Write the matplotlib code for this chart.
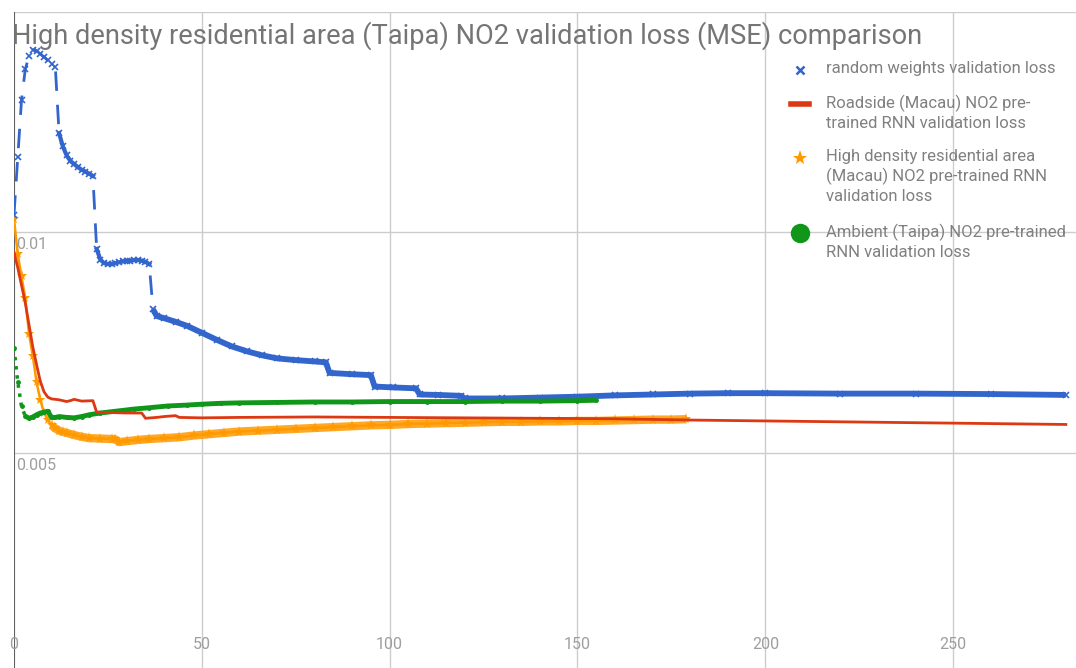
import matplotlib
matplotlib.use("Agg")
import matplotlib.pyplot as plt
from matplotlib.lines import Line2D
import matplotlib.transforms as mtransforms

plt.rcParams['font.family'] = ['Roboto', 'DejaVu Sans']

# ---- data ----
title = "High density residential area (Taipa) NO2 validation loss (MSE) comparison"

labels = [
    "random weights validation loss",
    "Roadside (Macau) NO2 pre-\ntrained RNN validation loss",
    "High density residential area\n(Macau) NO2 pre-trained RNN\nvalidation loss",
    "Ambient (Taipa) NO2 pre-trained\nRNN validation loss",
]

random_x = [0, 1, 2, 3, 4, 5, 6, 7, 8, 9, 10, 11, 12, 13, 14, 15, 16, 17, 18, 19,
            20, 21, 22, 23, 24, 25, 26, 27, 28, 29, 30, 31, 32, 33, 34, 35, 36, 37,
            38, 40, 43, 46, 50, 54, 58, 62, 66, 70, 75, 80, 83, 84, 90, 95, 96, 101,
            107, 108, 113, 119, 120, 130, 140, 150, 160, 170, 180, 190, 200, 220,
            240, 260, 280]
random_y = [0.0104, 0.0117, 0.0130, 0.0137, 0.0140, 0.01414, 0.01412, 0.01405,
            0.01398, 0.0139, 0.01383, 0.01375, 0.01225, 0.01195, 0.01175, 0.01162,
            0.01155, 0.01148, 0.01142, 0.01138, 0.01133, 0.01128, 0.00962, 0.00938,
            0.00930, 0.00928, 0.00928, 0.00930, 0.00932, 0.00934, 0.00935, 0.00936,
            0.00937, 0.00937, 0.00936, 0.00933, 0.00928, 0.00825, 0.00810, 0.00805,
            0.00797, 0.00788, 0.00772, 0.00756, 0.00741, 0.00730, 0.00721, 0.00714,
            0.00710, 0.00707, 0.00705, 0.00681, 0.00678, 0.00676, 0.00650, 0.00648,
            0.00646, 0.00632, 0.00631, 0.00629, 0.00623, 0.00623, 0.00625, 0.00627,
            0.00630, 0.00632, 0.00634, 0.00635, 0.00635, 0.00634, 0.00634, 0.00633,
            0.00631]

roadside_x = [0, 1, 2, 3, 4, 5, 6, 7, 8, 9, 10, 12, 14, 15, 16, 17, 18, 21, 22, 26,
              30, 34, 35, 38, 40, 43, 44, 50, 60, 80, 100, 120, 140, 160, 180, 200,
              220, 240, 260, 280]
roadside_y = [0.00955, 0.0092, 0.0088, 0.0084, 0.0079, 0.0074, 0.0070, 0.00662,
              0.00638, 0.00626, 0.00622, 0.00620, 0.00616, 0.00618, 0.00621, 0.00619,
              0.00617, 0.00618, 0.00592, 0.00591, 0.00590, 0.00590, 0.00578, 0.00580,
              0.00582, 0.00584, 0.00580, 0.00579, 0.00580, 0.00581, 0.00580, 0.00579,
              0.00578, 0.00577, 0.00574, 0.00572, 0.00570, 0.00568, 0.00566, 0.00564]

highdens_x = [0, 1, 2, 3, 4, 5, 6, 7, 8, 9, 10, 11, 12, 13, 14, 16, 18, 20, 23, 26,
              27, 28, 30, 33, 36, 40, 44, 48, 52, 56, 60, 65, 70, 75, 80, 85, 90, 95,
              100, 105, 110, 115, 120, 125, 130, 135, 140, 145, 150, 155, 160, 165,
              170, 175, 179]
highdens_y = [0.0103, 0.0095, 0.0090, 0.0085, 0.0077, 0.0072, 0.0066, 0.0062,
              0.0059, 0.00575, 0.00562, 0.00555, 0.00550, 0.00547, 0.00545, 0.00540,
              0.00536, 0.00533, 0.00532, 0.00531, 0.00530, 0.00524, 0.00526, 0.00529,
              0.00531, 0.00533, 0.00535, 0.00539, 0.00542, 0.00545, 0.00548, 0.00550,
              0.00552, 0.00554, 0.00556, 0.00558, 0.00560, 0.00562, 0.00563, 0.00565,
              0.00566, 0.00567, 0.00568, 0.00569, 0.00570, 0.00570, 0.00571, 0.00571,
              0.00572, 0.00572, 0.00573, 0.00574, 0.00575, 0.00575, 0.00576]

ambient_x = [0, 1, 2, 3, 4, 5, 6, 7, 8, 9, 10, 11, 12, 14, 16, 18, 20, 23, 27, 32,
             36, 41, 46, 50, 55, 60, 70, 80, 90, 100, 110, 120, 130, 140, 150, 155]
ambient_y = [0.00738, 0.00660, 0.00605, 0.00583, 0.00578, 0.00581, 0.00586, 0.00590,
             0.00592, 0.00594, 0.00580, 0.00580, 0.00582, 0.00580, 0.00579, 0.00582,
             0.00586, 0.00590, 0.00594, 0.00599, 0.00602, 0.00606, 0.00608, 0.00610,
             0.00612, 0.00613, 0.00614, 0.00615, 0.00615, 0.00616, 0.00616, 0.00616,
             0.00617, 0.00617, 0.00618, 0.00619]

x_ticks = [0, 50, 100, 150, 200, 250]
y_ticks = [0.005, 0.01, 0.015]
y_labels = ["0.005", "0.01", ""]

blue, red, orange, green = "#3366cc", "#dc3912", "#ff9900", "#109618"
grey_txt = "#757575"

# ---- figure ----
fig = plt.figure(figsize=(10.76, 6.68), dpi=100)
ax = fig.add_axes([14 / 1076, -5 / 668, 1 - 14 / 1076, 661 / 668])
ax.set_xlim(0, 282.7)
ax.set_ylim(0, 0.015)
for s in ax.spines.values():
    s.set_visible(False)
ax.set_xticks(x_ticks)
ax.set_yticks(y_ticks)
ax.tick_params(length=0, labelbottom=False, labelleft=False)
ax.grid(True, color="#cccccc", lw=1)
ax.set_axisbelow(True)
ax.axvline(0, color="#555555", lw=1.3, zorder=1)

# random weights: dashed line + x markers, dense band on the slow parts
ax.plot(random_x, random_y, color=blue, lw=2, dashes=(7, 5), marker="x",
        ms=4, mew=1.2, zorder=3)
for a, b in [(12, 22), (22, 37)]:
    ax.plot(random_x[a:b], random_y[a:b], color=blue, lw=3, zorder=3)
ax.plot(random_x[37:], random_y[37:], color=blue, lw=4.2, solid_capstyle="butt",
        zorder=3)

# roadside: plain line
ax.plot(roadside_x, roadside_y, color=red, lw=2, zorder=4)

# high density: line with star markers
ax.plot(highdens_x, highdens_y, color=orange, lw=1.8, marker="*", ms=8,
        mew=0, zorder=2)
ax.plot(highdens_x[10:], highdens_y[10:], color=orange, lw=6, alpha=0.85,
        solid_capstyle="butt", zorder=2)

# ambient: dotted line + small dots
ax.plot(ambient_x, ambient_y, color=green, lw=2.5, ls=":", marker="o", ms=2.5,
        zorder=3)
ax.plot(ambient_x[3:], ambient_y[3:], color=green, lw=3.5, solid_capstyle="butt",
        zorder=3)

# tick labels drawn inside the plot like the reference
trans = mtransforms.blended_transform_factory(ax.transData, ax.transAxes)
for t in x_ticks:
    ax.text(t, 0.0424, str(t), transform=trans, ha="center", va="center",
            fontsize=11.5, color="#9e9e9e")
for v, lab in zip(y_ticks, y_labels):
    ax.annotate(lab, xy=(0, v), xytext=(1.5, -3.5), textcoords="offset points",
                ha="left", va="top", fontsize=11.5, color="#9e9e9e")

fig.text(12 / 1076, 1 - 36 / 668, title, fontsize=19.6, color=grey_txt,
         ha="left", va="center")

# legend drawn by hand
leg_rows = [70, 104, 158, 233]
handles = [
    dict(marker="x", color=blue, ms=6, mew=1.8, ls="none"),
    None,
    dict(marker="*", color=orange, ms=11, mew=0, ls="none"),
    dict(marker="o", color=green, ms=14, mew=0, ls="none"),
]
for y, lab, h in zip(leg_rows, labels, handles):
    yf = 1 - y / 668
    if h is None:
        fig.add_artist(Line2D([791 / 1076, 809 / 1076], [yf, yf], color=red,
                              lw=4, transform=fig.transFigure))
    else:
        fig.add_artist(Line2D([800 / 1076], [yf], transform=fig.transFigure, **h))
    fig.text(826 / 1076, yf + 9 / 668, lab, fontsize=12, color="#808080",
             ha="left", va="top", linespacing=1.3)

fig.savefig("out.png", dpi=100)
